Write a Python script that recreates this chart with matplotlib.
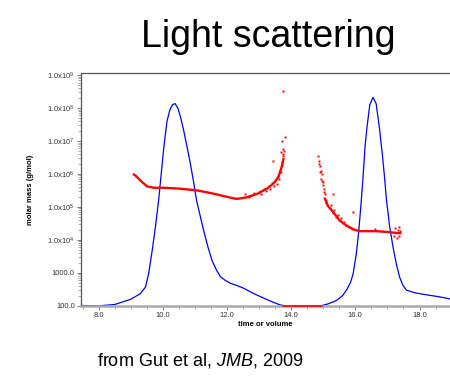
import matplotlib.pyplot as plt
import numpy as np
from matplotlib.ticker import FixedLocator, MultipleLocator, LogLocator, NullFormatter

plt.rcParams['mathtext.fontset'] = 'custom'
plt.rcParams['mathtext.rm'] = 'Liberation Sans'
plt.rcParams['mathtext.it'] = 'Liberation Sans:italic'

# light scattering trace (blue), elution volume vs log10 of the signal
LS_VOLUME = [7.45, 8.0, 8.5, 9.0, 9.3, 9.46, 9.56, 9.67, 9.77, 9.87, 9.95, 10.03,
             10.13, 10.22, 10.3, 10.38, 10.47, 10.56, 10.65, 10.76, 10.86, 10.96,
             11.05, 11.17, 11.27, 11.4, 11.53, 11.66, 11.79, 11.95, 12.1, 12.3,
             12.51, 12.7, 12.93, 13.2, 13.44, 13.65, 13.85, 14.07, 14.3, 14.6,
             14.89, 15.15, 15.41, 15.6, 15.72, 15.85, 15.93, 16.03, 16.1, 16.17,
             16.24, 16.3, 16.36, 16.45, 16.55, 16.65, 16.76, 16.84, 16.91, 16.97,
             17.07, 17.17, 17.28, 17.38, 17.48, 17.59, 17.8, 18.0, 18.25, 18.52,
             18.75, 18.95]
LS_LOG = [2.0, 1.99, 2.03, 2.19, 2.36, 2.56, 2.98, 3.68, 4.4, 5.2, 6.0, 6.8,
          7.6, 7.95, 8.1, 8.14, 8.0, 7.7, 7.32, 6.8, 6.3, 5.75,
          5.2, 4.7, 4.29, 3.8, 3.38, 3.1, 2.88, 2.76, 2.68, 2.61,
          2.53, 2.43, 2.32, 2.2, 2.1, 2.02, 1.98, 1.96, 1.96, 1.97,
          1.98, 2.05, 2.15, 2.3, 2.46, 2.7, 2.96, 3.57, 4.2, 5.0,
          5.9, 6.8, 7.4, 8.1, 8.33, 8.13, 7.32, 6.6, 5.9, 5.2,
          4.4, 3.8, 3.25, 2.86, 2.62, 2.47, 2.4, 2.36, 2.32, 2.28,
          2.24, 2.2]

# molar mass across the first peak (red)
MM1_VOLUME = [9.1, 9.15, 9.3, 9.51, 9.72, 10.03, 10.55, 11.07, 11.58, 12.1, 12.31,
              12.62, 12.93, 13.24, 13.44, 13.6, 13.7, 13.76]
MM1_LOG = [5.98, 5.95, 5.8, 5.62, 5.58, 5.58, 5.55, 5.5, 5.4, 5.28, 5.24,
           5.29, 5.39, 5.55, 5.7, 5.9, 6.2, 6.45]
MM1_SCATTER_V = [12.57, 12.7, 12.85, 13.0, 13.05, 13.15, 13.2, 13.3, 13.35, 13.4,
                 13.45, 13.5, 13.55, 13.58, 13.62, 13.65, 13.68, 13.7, 13.72, 13.74,
                 13.76, 13.44, 13.67, 13.7, 13.81, 13.76, 13.78, 13.74]
MM1_SCATTER_LOG = [5.39, 5.3, 5.42, 5.45, 5.38, 5.55, 5.48, 5.62, 5.55, 5.72,
                   5.62, 5.8, 5.7, 5.95, 5.85, 6.1, 6.05, 6.35, 6.28, 6.55,
                   6.6, 6.4, 6.68, 7.0, 7.11, 8.53, 6.7, 6.75]

# molar mass across the second peak (red)
MM2_VOLUME = [15.05, 15.15, 15.31, 15.52, 15.72, 15.98,
              16.14, 16.65, 17.07, 17.33, 17.4]
MM2_LOG = [5.25, 5.02, 4.84, 4.58, 4.43, 4.3,
           4.26, 4.26, 4.23, 4.2, 4.2]
MM2_SCATTER_V = [14.84, 14.86, 14.89, 14.9, 14.95, 14.96, 14.99, 15.02, 15.04,
                 14.87, 14.92, 14.93, 14.98, 15.02, 15.08, 15.1, 15.2, 15.25, 15.3,
                 15.35, 15.4, 15.45, 15.5, 15.55, 15.6, 15.65, 15.7, 15.8, 15.9,
                 15.31, 15.93, 16.6, 17.2, 17.25, 17.3, 17.33, 17.36, 17.38, 17.35]
MM2_SCATTER_LOG = [6.56, 6.3, 6.25, 6.05, 6.0, 5.8, 5.65, 5.55, 5.4,
                   6.4, 6.1, 5.85, 5.75, 5.45, 5.2, 5.12, 4.95, 5.05, 4.8,
                   4.9, 4.7, 4.75, 4.6, 4.65, 4.5, 4.55, 4.45, 4.38, 4.32,
                   5.4, 4.84, 4.33, 4.1, 4.35, 4.05, 4.3, 4.12, 4.25, 4.38]

# points below the axis floor between the peaks
MM_FLOOR_V = [13.75, 14.0, 14.3, 14.6, 14.95]

Y_TICKS = [1e2, 1e3, 1e4, 1e5, 1e6, 1e7, 1e8, 1e9]
Y_LABELS = ['100.0', '1000.0', '1.0x10$^{4}$', '1.0x10$^{5}$', '1.0x10$^{6}$',
            '1.0x10$^{7}$', '1.0x10$^{8}$', '1.0x10$^{9}$']
X_TICKS = [8.0, 10.0, 12.0, 14.0, 16.0, 18.0]

RED = '#ff0000'
BLUE = '#0000ff'

fig = plt.figure(figsize=(4.5, 3.87), dpi=100)
ax = fig.add_axes([81 / 450, 1 - 306 / 387, 369 / 450, 233 / 387])

ax.plot(LS_VOLUME, 10 ** np.array(LS_LOG), color=BLUE, lw=0.9)

ax.plot(MM1_VOLUME, 10 ** np.array(MM1_LOG), color=RED, lw=1.7)
ax.plot(MM1_SCATTER_V, 10 ** np.array(MM1_SCATTER_LOG), 's', color=RED,
        markersize=1.4, markeredgewidth=0)
ax.plot(MM2_VOLUME, 10 ** np.array(MM2_LOG), color=RED, lw=1.7)
ax.plot(MM2_SCATTER_V, 10 ** np.array(MM2_SCATTER_LOG), 's', color=RED,
        markersize=1.4, markeredgewidth=0)
ax.plot(MM_FLOOR_V, [97] * len(MM_FLOOR_V), color=RED, lw=1.2,
        clip_on=False, zorder=4)

ax.set_yscale('log')
ax.set_xlim(7.45, 18.95)
ax.set_ylim(96.6, 1.17e9)

ax.yaxis.set_major_locator(FixedLocator(Y_TICKS))
ax.set_yticklabels(Y_LABELS)
ax.yaxis.set_minor_locator(LogLocator(base=10, subs=np.arange(2, 10)))
ax.yaxis.set_minor_formatter(NullFormatter())
ax.xaxis.set_major_locator(FixedLocator(X_TICKS))
ax.set_xticklabels([f'{v:.1f}' for v in X_TICKS])
ax.xaxis.set_minor_locator(MultipleLocator(0.5))

ax.tick_params(axis='both', which='major', labelsize=5.5, length=3, width=0.6,
               color='#666666', labelcolor='#333333', pad=1.5)
ax.tick_params(axis='both', which='minor', length=2, width=0.5, color='#888888')
for lbl in ax.get_xticklabels() + ax.get_yticklabels():
    lbl.set_family(['Liberation Sans', 'DejaVu Sans'])

ax.spines['right'].set_visible(False)
for side in ('left', 'top'):
    ax.spines[side].set_color('#555555')
    ax.spines[side].set_linewidth(0.9)
ax.spines['bottom'].set_color('#aaaaaa')
ax.spines['bottom'].set_linewidth(1.8)

ax.set_xlabel('time or volume', fontsize=5.5, fontweight='bold', labelpad=1,
              family=['Liberation Sans', 'DejaVu Sans'])
ax.set_ylabel('molar mass (g/mol)', fontsize=5.5, fontweight='bold', labelpad=9,
              family=['Liberation Sans', 'DejaVu Sans'])

fig.text(268 / 450, 1 - 47 / 387, 'Light scattering', ha='center', va='baseline',
         fontsize=27, family=['Liberation Sans', 'DejaVu Sans'])
fig.text(97 / 450, 1 - 366 / 387, 'from Gut et al, $\\it{JMB}$, 2009', ha='left',
         va='baseline', fontsize=13, family=['Liberation Sans', 'DejaVu Sans'])

fig.savefig('out.png', dpi=100)
